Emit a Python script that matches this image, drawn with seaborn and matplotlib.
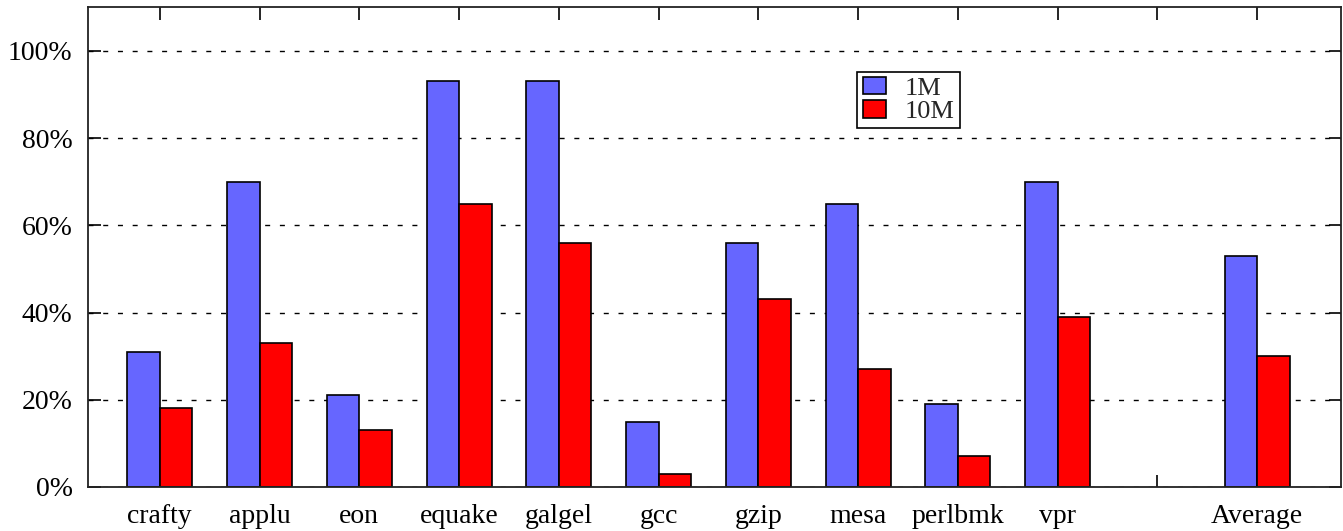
import matplotlib
matplotlib.use('Agg')
import matplotlib.pyplot as plt
import seaborn as sns
import pandas as pd

# data
benchmarks = ['crafty', 'applu', 'eon', 'equake', 'galgel', 'gcc',
              'gzip', 'mesa', 'perlbmk', 'vpr', 'Average']
vals_1M  = [31, 70, 21, 93, 93, 15, 56, 65, 19, 70, 53]
vals_10M = [18, 33, 13, 65, 56,  3, 43, 27,  7, 39, 30]
series   = ['1M', '10M']
yticks      = [0, 20, 40, 60, 80, 100]
ytick_labels = ['0%', '20%', '40%', '60%', '80%', '100%']

# empty slot before Average
order = benchmarks[:-1] + [' '] + benchmarks[-1:]

df = pd.DataFrame({
    'benchmark': benchmarks * 2,
    'config': [series[0]] * len(benchmarks) + [series[1]] * len(benchmarks),
    'value': vals_1M + vals_10M,
})

sns.set_style('ticks')
plt.rcParams['font.family'] = ['Liberation Serif', 'DejaVu Serif']

fig = plt.figure(figsize=(13.43, 5.31), dpi=100)
ax = fig.add_axes([0.0655, 0.0829, 0.933, 0.9034])

sns.barplot(data=df, x='benchmark', y='value', hue='config', order=order,
            hue_order=series, palette=['#6666ff', '#ff0000'], saturation=1,
            width=0.65, edgecolor='black', linewidth=1.2, ax=ax, legend=False)

ax.set_xlim(-0.72, 11.84)
ax.set_ylim(0, 110)
ax.set_yticks(yticks)
ax.set_yticklabels(ytick_labels)
ax.set_xlabel('')
ax.set_ylabel('')

ax.set_axisbelow(True)
ax.yaxis.grid(True, color='black', linestyle=(0, (3.6, 7)), linewidth=1)
ax.xaxis.grid(False)

ax.tick_params(axis='both', direction='in', top=True, right=True,
               length=9, width=1.2, labelsize=20, colors='black')
ax.tick_params(axis='y', pad=11)
ax.tick_params(axis='x', pad=12)
for s in ax.spines.values():
    s.set_visible(True)
    s.set_linewidth(1.3)
    s.set_color('#222222')

handles = [plt.Rectangle((0, 0), 1, 1, facecolor=c, edgecolor='black', linewidth=1.2)
           for c in ['#6666ff', '#ff0000']]
leg = ax.legend(handles, series, loc='upper left', bbox_to_anchor=(0.614, 0.866),
                borderaxespad=0, fontsize=19, frameon=True, fancybox=False,
                edgecolor='black', framealpha=1, handlelength=0.9,
                handleheight=0.65, handletextpad=0.7, labelspacing=0.0,
                borderpad=0.2)
leg.get_frame().set_linewidth(1.2)

plt.savefig('out.png', dpi=100)
